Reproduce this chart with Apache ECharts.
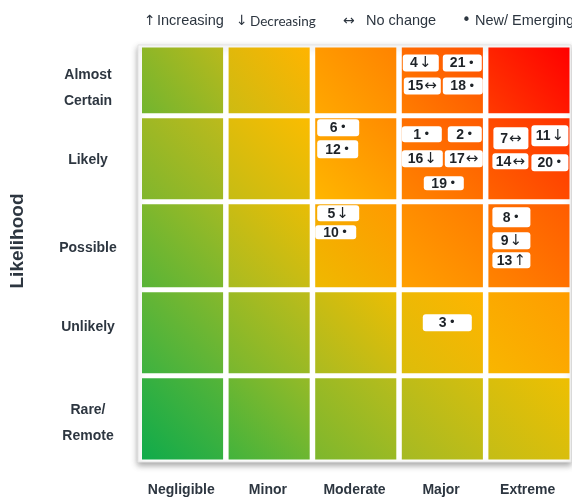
<!DOCTYPE html>
<html>
<head>
<meta charset="utf-8">
<script src="https://cdn.jsdelivr.net/npm/echarts@6/dist/echarts.min.js"></script>
<style>
  html, body { margin: 0; padding: 0; background: #fff; }
  #chart { width: 572px; height: 498px; }
</style>
</head>
<body>
<div id="chart"></div>
<script>
// Axes of the risk matrix
const consequences = ['Negligible', 'Minor', 'Moderate', 'Major', 'Extreme'];
const likelihoods = ['Rare/\nRemote', 'Unlikely', 'Possible', 'Likely', 'Almost\nCertain']; // bottom to top

// Risk register: id, consequence index, likelihood index, trend
const riskIds         = [1, 2, 3, 4, 5, 6, 7, 8, 9, 10, 11, 12, 13, 14, 15, 16, 17, 18, 19, 20, 21];
const riskConsequence = [3, 3, 3, 3, 2, 2, 4, 4, 4, 2, 4, 2, 4, 4, 3, 3, 3, 3, 3, 4, 3];
const riskLikelihood  = [3, 3, 1, 4, 2, 3, 3, 2, 2, 2, 3, 3, 2, 3, 4, 3, 3, 4, 3, 3, 4];
const riskTrend       = ['new', 'new', 'new', 'down', 'down', 'new', 'same', 'new', 'down', 'new', 'down',
                         'new', 'up', 'same', 'same', 'down', 'same', 'new', 'new', 'new', 'new'];

// Legend entries
const trendKeys   = ['up', 'down', 'same', 'new'];
const trendSymbol = { up: '↑', down: '↓', same: '↔', new: '•' };
const trendLabel  = { up: 'Increasing', down: 'Decreasing', same: 'No change', new: 'New/ Emerging' };

// ---- layout & style ----
const FONT = 'Liberation Sans';
const SYM_FONT = 'DejaVu Sans';
const TEXT = '#2d3640';
// relative height of each likelihood band (bottom to top)
const rowWeights = [1, 1, 1.02, 1, 0.82];
const rowEdges = [0];
rowWeights.forEach(w => rowEdges.push(rowEdges[rowEdges.length - 1] + w));
// small vertical nudges of the row captions (px)
const rowLabelShift = [4, -6, 2, 1, 8];

// gradient [bottom-left, top-right] of each cell, rows bottom to top
const cellColors = [
  [['#10ab4b', '#55b438'], ['#43b33c', '#95ba27'], ['#7db72d', '#b7bc1c'], ['#a5ba23', '#d5be0e'], ['#c4bd16', '#eebf02']],
  [['#3db240', '#86b82c'], ['#78b72f', '#bdbc1a'], ['#abbb20', '#ebbd04'], ['#dcbd0a', '#ffb400'], ['#f8b600', '#ff9c00']],
  [['#58b437', '#a1ba24'], ['#a9bb21', '#e8bd06'], ['#efb900', '#ff9a00'], ['#ffa000', '#ff7c00'], ['#ff8400', '#ff5c00']],
  [['#80b62d', '#bcba1c'], ['#c6bc14', '#fbbc00'], ['#ffb600', '#ff8a00'], ['#ff8400', '#ff5a00'], ['#ff6200', '#ff3200']],
  [['#72b52f', '#b8b91c'], ['#cdbb12', '#ffb400'], ['#ffa800', '#ff8300'], ['#ff7d00', '#ff5000'], ['#ff3a00', '#ff0000']]
];

// tag box inside its cell: [dx, dy, width, height] in px from the cell's top-left corner
const tagBoxes = {
  1: [0, 8, 40, 16],  2: [46, 8, 34, 16],  3: [21, 22, 49, 17],  4: [1, 7, 36, 17],
  5: [2, 1, 42, 16],  6: [2, 1, 42, 17],   7: [5, 9, 35, 22],    8: [4, 3, 38, 20],
  9: [4, 28, 38, 17], 10: [0, 21, 41, 14], 11: [43, 7, 37, 21],  12: [2, 22, 41, 18],
  13: [4, 48, 38, 16], 14: [4, 35, 36, 16], 15: [2, 30, 37, 17], 16: [0, 32, 41, 17],
  17: [43, 32, 38, 17], 18: [41, 30, 40, 17], 19: [22, 58, 40, 14], 20: [43, 36, 37, 17],
  21: [41, 7, 39, 17]
};

const CELL_INSET_L = 4, CELL_INSET_R = 1.5, CELL_INSET_V = 2.5;

function cellRect(api, c, r) {
  const bottom = api.coord([c, rowEdges[r]]);
  const top = api.coord([c, rowEdges[r + 1]]);
  const bw = api.size([1, 0])[0];
  const x = bottom[0] - bw / 2 + CELL_INSET_L;
  const y = top[1] + CELL_INSET_V;
  return { x: x, y: y, width: bw - CELL_INSET_L - CELL_INSET_R, height: bottom[1] - top[1] - 2 * CELL_INSET_V };
}

// matrix cells
const cellData = [];
likelihoods.forEach((_, r) => consequences.forEach((_, c) => cellData.push([c, r])));

function renderCell(params, api) {
  const c = api.value(0), r = api.value(1);
  const rect = cellRect(api, c, r);
  const cols = cellColors[r][c];
  return {
    type: 'rect',
    shape: rect,
    style: {
      fill: new echarts.graphic.LinearGradient(0, 1, 1, 0, [
        { offset: 0, color: cols[0] },
        { offset: 1, color: cols[1] }
      ])
    }
  };
}

// likelihood captions on the left
function renderRowLabel(params, api) {
  const r = api.value(1);
  const mid = api.coord([0, (rowEdges[r] + rowEdges[r + 1]) / 2]);
  const bw = api.size([1, 0])[0];
  return {
    type: 'text',
    x: mid[0] - bw / 2 - 50,
    y: mid[1] + rowLabelShift[r],
    style: {
      text: likelihoods[r],
      fill: TEXT,
      fontFamily: FONT,
      fontWeight: 'bold',
      fontSize: 14,
      lineHeight: 26,
      align: 'center',
      verticalAlign: 'middle'
    }
  };
}

// risk tags
const riskData = riskIds.map((id, i) => [riskConsequence[i], riskLikelihood[i], i]);

function renderRisk(params, api) {
  const c = api.value(0), r = api.value(1), i = api.value(2);
  const id = riskIds[i];
  const cell = cellRect(api, c, r);
  const b = tagBoxes[id];
  const x = cell.x + b[0], y = cell.y + b[1];
  const isBullet = riskTrend[i] === 'new';
  return {
    type: 'group',
    children: [
      { type: 'rect', shape: { x: x, y: y, width: b[2], height: b[3], r: 3 }, style: { fill: '#ffffff' } },
      {
        type: 'text',
        x: x + b[2] / 2,
        y: y + b[3] / 2 + 0.5,
        style: {
          text: '{n|' + id + '}{g| }{s|' + trendSymbol[riskTrend[i]] + '}',
          align: 'center',
          verticalAlign: 'middle',
          rich: {
            n: { fontFamily: FONT, fontWeight: 'bold', fontSize: 14, fill: '#1e2328' },
            g: { fontFamily: FONT, fontSize: isBullet ? 8 : 4, fill: '#1e2328' },
            s: { fontFamily: SYM_FONT, fontWeight: 'normal', fontSize: isBullet ? 12 : 15, fill: '#1e2328' }
          }
        }
      }
    ]
  };
}

// legend row across the top
const legendX = { up: 144, down: 236, same: 343, new: 462 };
const legendTextX = { up: 157, down: 250, same: 366, new: 475 };
const legendGraphics = [];
trendKeys.forEach(k => {
  legendGraphics.push({
    type: 'text', x: legendX[k], y: 21,
    style: { text: trendSymbol[k], fontFamily: SYM_FONT, fontSize: k === 'new' ? 15 : 14, fill: TEXT, verticalAlign: 'middle' }
  });
  legendGraphics.push({
    type: 'text', x: legendTextX[k], y: k === 'down' ? 22 : 21,
    style: {
      text: trendLabel[k],
      fontFamily: k === 'down' ? 'Lato' : FONT,
      fontSize: k === 'down' ? 13.5 : 14.5,
      fill: TEXT, verticalAlign: 'middle'
    }
  });
});
legendGraphics.push({
  type: 'text', x: 17.5, y: 241, rotation: Math.PI / 2,
  style: { text: 'Likelihood', fontFamily: FONT, fontWeight: 'bold', fontSize: 19, fill: TEXT, align: 'center', verticalAlign: 'middle' }
});

const chart = echarts.init(document.getElementById('chart'), null, { renderer: 'canvas' });
chart.setOption({
  animation: false,
  backgroundColor: '#ffffff',
  grid: {
    left: 138, right: 1, top: 45, bottom: 36,
    show: true,
    backgroundColor: '#ffffff',
    borderColor: '#e4e4e4',
    borderWidth: 1,
    shadowColor: 'rgba(0,0,0,0.35)',
    shadowBlur: 6,
    shadowOffsetY: 3
  },
  xAxis: {
    type: 'category',
    data: consequences,
    axisLine: { show: false },
    axisTick: { show: false },
    splitLine: { show: false },
    axisLabel: { interval: 0, margin: 21, color: TEXT, fontFamily: FONT, fontWeight: 'bold', fontSize: 14 }
  },
  yAxis: {
    type: 'value', min: 0, max: rowEdges[rowEdges.length - 1], show: false
  },
  graphic: legendGraphics,
  series: [
    { type: 'custom', renderItem: renderCell, data: cellData, silent: true, z: 1 },
    { type: 'custom', renderItem: renderRowLabel, data: likelihoods.map((_, r) => [0, r]), silent: true, z: 2 },
    { type: 'custom', renderItem: renderRisk, data: riskData, silent: true, z: 3 }
  ]
});
</script>
</body>
</html>
